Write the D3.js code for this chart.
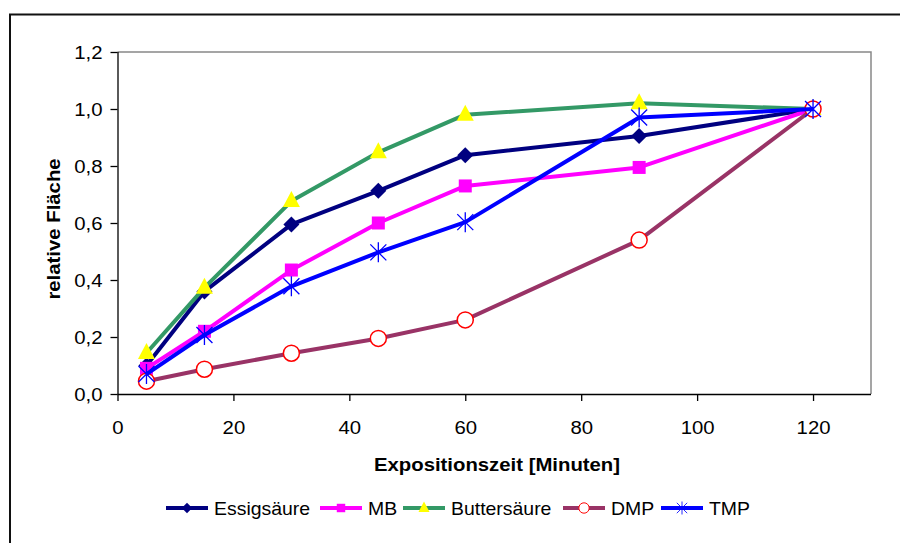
<!DOCTYPE html>
<html>
<head>
<meta charset="utf-8">
<script src="https://cdn.jsdelivr.net/npm/d3@7"></script>
<style>
  body { margin: 0; background: #fff; }
  svg { display: block; font-family: "Liberation Sans", Arial, sans-serif; }
</style>
</head>
<body>
<svg id="chart" width="900" height="543"></svg>
<script>
// data
const times = [5, 15, 30, 45, 60, 90, 120];
const essigsaeure = [0.10, 0.36, 0.595, 0.713, 0.838, 0.905, 1.0];
const mb = [0.09, 0.22, 0.435, 0.60, 0.73, 0.795, 1.0];
const buttersaeure = [0.144, 0.373, 0.677, 0.848, 0.98, 1.02, 1.0];
const dmp = [0.045, 0.087, 0.143, 0.195, 0.26, 0.54, 1.0];
const tmp = [0.07, 0.207, 0.378, 0.497, 0.603, 0.97, 1.0];
const xTicks = [0, 20, 40, 60, 80, 100, 120];
const yTicks = [0, 0.2, 0.4, 0.6, 0.8, 1.0, 1.2];

const series = [
  {name: 'Essigsäure', values: essigsaeure, line: '#000080', marker: 'diamond', fill: '#000080', stroke: 'none'},
  {name: 'MB', values: mb, line: '#ff00ff', marker: 'square', fill: '#ff00ff', stroke: 'none'},
  {name: 'Buttersäure', values: buttersaeure, line: '#339966', marker: 'triangle', fill: '#ffff00', stroke: 'none'},
  {name: 'DMP', values: dmp, line: '#993366', marker: 'circle', fill: '#ffffff', stroke: '#ff0000'},
  {name: 'TMP', values: tmp, line: '#0000ff', marker: 'asterisk', fill: 'none', stroke: '#0000ff'}
];

const svg = d3.select('#chart');
const pLeft = 117.5, pRight = 871, pTop = 52, pBottom = 394;
const stretch = 1.13; // text in the original is a bit wide

const x = d3.scaleLinear().domain([0, 130]).range([pLeft, pRight]);
const y = d3.scaleLinear().domain([0, 1.2]).range([pBottom, pTop]);

// outer frame (only left/top visible)
svg.append('path')
    .attr('d', `M10,543 V14.5 H900`)
    .attr('fill', 'none')
    .attr('stroke', '#111')
    .attr('stroke-width', 2);

// plot area frame, grey on top/right
svg.append('path')
    .attr('d', `M${pLeft},${pTop} H${pRight} V${pBottom}`)
    .attr('fill', 'none')
    .attr('stroke', '#888')
    .attr('stroke-width', 1.5);

const xAxis = svg.append('g')
    .attr('transform', `translate(0,${pBottom})`)
    .call(d3.axisBottom(x).tickValues(xTicks).tickSize(7));
const yAxis = svg.append('g')
    .attr('transform', `translate(${pLeft},0)`)
    .call(d3.axisLeft(y).tickValues(yTicks).tickSize(7)
      .tickFormat(d => d3.format('.1f')(d).replace('.', ',')));
[xAxis, yAxis].forEach(g => {
  g.select('.domain').attr('stroke', '#000').attr('stroke-width', 1.3)
    .attr('d', g === xAxis ? `M${pLeft},0.5H${pRight}` : `M0.5,${pBottom}V${pTop}`);
  g.selectAll('.tick line').attr('stroke', '#000').attr('stroke-width', 1.3);
  g.selectAll('.tick text').attr('fill', '#000').style('font-size', '18px');
});
xAxis.selectAll('.tick text')
    .attr('x', 0).attr('y', 0).attr('dy', null)
    .attr('transform', `translate(0,40) scale(${stretch},1)`);
yAxis.selectAll('.tick text')
    .attr('x', 0).attr('dy', '0.35em')
    .attr('transform', `translate(-15,0) scale(${stretch},1)`);

svg.append('text')
    .attr('transform', `translate(497,471) scale(${stretch},1)`)
    .attr('text-anchor', 'middle')
    .style('font-size', '18px').style('font-weight', 'bold')
    .text('Expositionszeit [Minuten]');
svg.append('text')
    .attr('transform', `translate(60,229) rotate(-90) scale(${stretch},1)`)
    .attr('text-anchor', 'middle')
    .style('font-size', '18px').style('font-weight', 'bold')
    .text('relative Fläche');

function drawMarker(g, type, s) {
  if (type === 'diamond') {
    g.append('path').attr('d', 'M0,-8L8,0L0,8L-8,0Z');
  } else if (type === 'square') {
    g.append('rect').attr('x', -6.5).attr('y', -6.5).attr('width', 13).attr('height', 13);
  } else if (type === 'triangle') {
    g.append('path').attr('d', 'M0,-10 L8.5,6 L-8.5,6 Z');
  } else if (type === 'circle') {
    g.append('circle').attr('r', 8).attr('stroke-width', 1.5);
  } else if (type === 'asterisk') {
    g.append('path').attr('d', 'M-8,-8L8,8M-8,8L8,-8M0,-10V10').attr('stroke-width', 1.3);
  }
  g.selectAll('*').attr('fill', s.fill).attr('stroke', s.stroke);
}

const line = d3.line().x(d => x(d[0])).y(d => y(d[1]));

series.forEach(s => {
  const pts = times.map((t, i) => [t, s.values[i]]);
  svg.append('path')
      .datum(pts)
      .attr('d', line)
      .attr('fill', 'none')
      .attr('stroke', s.line)
      .attr('stroke-width', 4)
      .attr('stroke-linejoin', 'round');
  pts.forEach(p => {
    const g = svg.append('g').attr('transform', `translate(${x(p[0])},${y(p[1])})`);
    drawMarker(g, s.marker, s);
  });
});

// legend
const legendPos = [166, 320, 403, 563, 661];
const legend = svg.append('g').attr('transform', 'translate(0,508)');
series.forEach((s, i) => {
  const lx = legendPos[i];
  legend.append('line')
      .attr('x1', lx).attr('x2', lx + 42)
      .attr('stroke', s.line).attr('stroke-width', 4);
  const g = legend.append('g').attr('transform', `translate(${lx + 21},0) scale(0.65)`);
  drawMarker(g, s.marker, s);
  legend.append('text')
      .attr('transform', `translate(${lx + 48},7) scale(1.08,1)`)
      .style('font-size', '18px')
      .text(s.name);
});
</script>
</body>
</html>
